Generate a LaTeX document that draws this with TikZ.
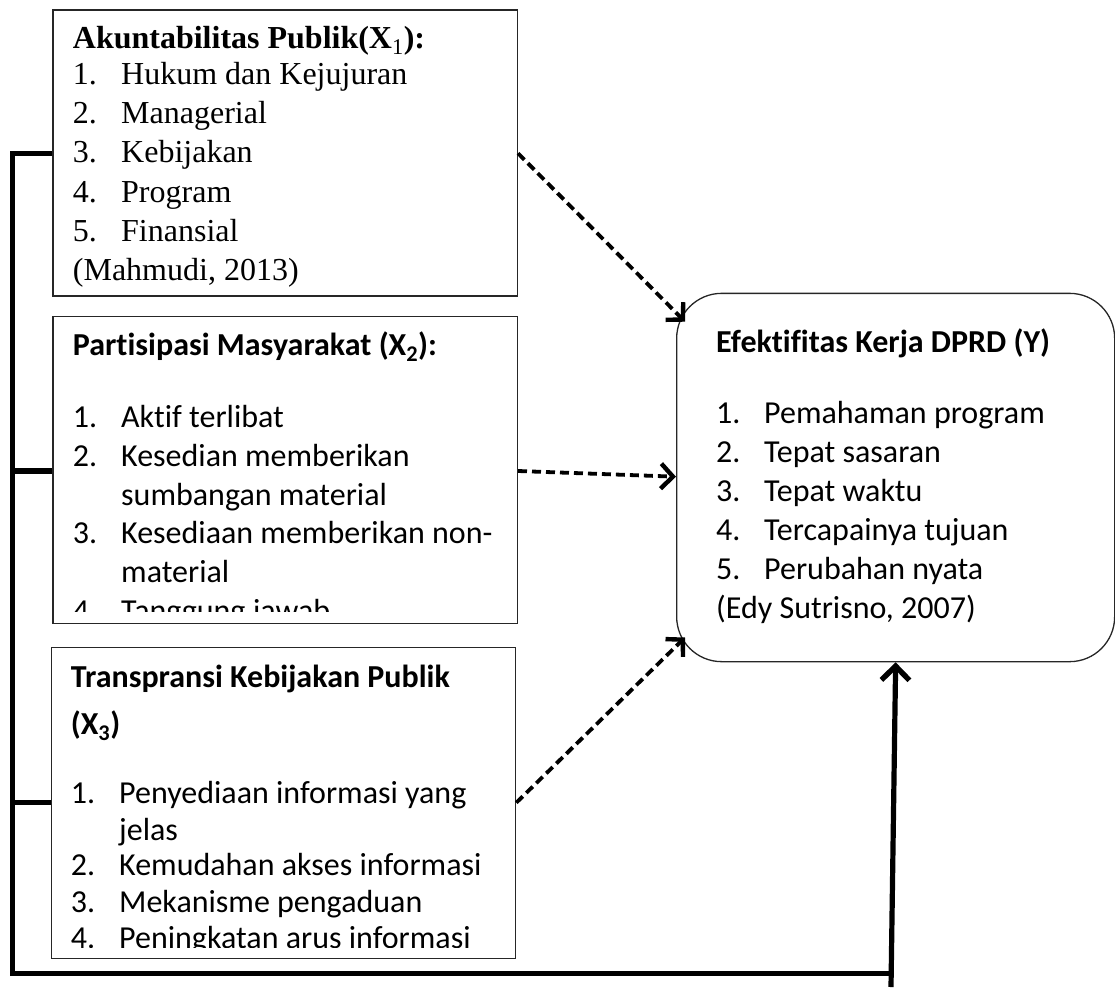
\documentclass[tikz,border=0pt]{standalone}
\usepackage{fontspec}
\newfontfamily\tnrfam{Liberation Serif}
\newfontfamily\calfam[Ligatures=NoCommon]{Carlito}
\usetikzlibrary{arrows.meta}
\newcommand\tnrsz{\tnrfam\fontsize{32}{38}\selectfont}
\newcommand\calsz{\calfam\fontsize{32}{38}\selectfont}
\begin{document}
\begin{tikzpicture}[x=1pt,y=-1pt,
  box/.style={draw=black!85, line width=1.3pt, rectangle, inner sep=0pt, anchor=north west},
  tl/.style={anchor=base west, inner sep=0pt, font=\tnrsz},
  cl/.style={anchor=base west, inner sep=0pt, font=\calsz},
  bus/.style={line width=5.2pt, line join=miter},
  dasharrow/.style={line width=3.8pt, dash pattern=on 9pt off 5pt,
    -{Straight Barb[length=12pt,width=25pt,line width=4.4pt]}},
  bigarrow/.style={line width=5.2pt, -{Straight Barb[length=14pt,width=28pt,line width=5.4pt]}},
]
\useasboundingbox (0,0) rectangle (1115,987);

% boxes
\node[box, minimum width=464.4pt, minimum height=286pt] (b1) at (52.3,9.3) {};
\node[box, minimum width=464.4pt, minimum height=307pt] (b2) at (52.3,315.7) {};
\node[box, minimum width=464.3pt, minimum height=311pt] (b3) at (50.7,647) {};
\node[box, rounded corners=45pt, minimum width=438pt, minimum height=368.3pt] (y) at (676,292.7) {};

% box 1 text
\node[tl, font=\tnrsz\bfseries] (b1t) at (72.7,48.3) {Akuntabilitas Publik(X\textsubscript{\mdseries 1}):};
\node[tl] (b1n1) at (72.7,85) {1.};   \node[tl] (b1i1) at (121,85) {Hukum dan Kejujuran};
\node[tl] (b1n2) at (72.7,124) {2.};  \node[tl] (b1i2) at (121,124) {Managerial};
\node[tl] (b1n3) at (72.7,163) {3.};  \node[tl] (b1i3) at (121,163) {Kebijakan};
\node[tl] (b1n4) at (72.7,202) {4.};  \node[tl] (b1i4) at (121,202) {Program};
\node[tl] (b1n5) at (72.7,241) {5.};  \node[tl] (b1i5) at (121,241) {Finansial};
\node[tl] (b1s) at (72.7,280) {(Mahmudi, 2013)};

% box 2 text
\node[cl, font=\calsz\bfseries] (b2t) at (72.7,355) {Partisipasi Masyarakat (X\textsubscript{2}):};
\node[cl] (b2n1) at (72.7,427.3) {1.}; \node[cl] (b2i1) at (121,427.3) {Aktif terlibat};
\node[cl] (b2n2) at (72.7,466) {2.};   \node[cl] (b2i2) at (121,466) {Kesedian memberikan};
\node[cl] (b2i2b) at (121,505) {sumbangan material};
\node[cl] (b2n3) at (72.7,543.3) {3.}; \node[cl] (b2i3) at (121,543.3) {Kesediaan memberikan non-};
\node[cl] (b2i3b) at (121,582.3) {material};
\begin{scope}
  \clip (52.3,315.7) rectangle (516.7,611.7);
  \node[cl] (b2n4) at (72.7,621.5) {4.}; \node[cl] (b2i4) at (121,621.5) {Tanggung jawab};
\end{scope}

% box 3 text
\node[cl, font=\calsz\bfseries] (b3t) at (70.7,687) {Transpransi Kebijakan Publik};
\node[cl, font=\calsz\bfseries] (b3x) at (70.7,734) {(X\textsubscript{3})};
\node[cl] (b3n1) at (70.7,803) {1.}; \node[cl] (b3i1) at (119,803) {Penyediaan informasi yang};
\node[cl] (b3i1b) at (119,840) {jelas};
\node[cl] (b3n2) at (70.7,875.5) {2.}; \node[cl] (b3i2) at (119,875.5) {Kemudahan akses informasi};
\node[cl] (b3n3) at (70.7,912) {3.}; \node[cl] (b3i3) at (119,912) {Mekanisme pengaduan};
\begin{scope}
  \clip (50.7,647) rectangle (515,947);
  \node[cl] (b3n4) at (70.7,948.5) {4.}; \node[cl] (b3i4) at (119,948.5) {Peningkatan arus informasi};
\end{scope}

% Y box text
\node[cl, font=\calsz\bfseries] (yt) at (716,352) {Efektifitas Kerja DPRD (Y)};
\node[cl] (yn1) at (716,423) {1.}; \node[cl] (yi1) at (764,423) {Pemahaman program};
\node[cl] (yn2) at (716,462.5) {2.}; \node[cl] (yi2) at (764,462.5) {Tepat sasaran};
\node[cl] (yn3) at (716,501) {3.}; \node[cl] (yi3) at (764,501) {Tepat waktu};
\node[cl] (yn4) at (716,540) {4.}; \node[cl] (yi4) at (764,540) {Tercapainya tujuan};
\node[cl] (yn5) at (716,579) {5.}; \node[cl] (yi5) at (764,579) {Perubahan nyata};
\node[cl] (ys) at (716,618) {(Edy Sutrisno, 2007)};

% connector coordinates
\coordinate (j1) at (12.5,153.3);
\coordinate (j2) at (12.5,471);
\coordinate (j3) at (12.5,802.7);
\coordinate (j4) at (12.5,973.5);
\coordinate (j5) at (891,973.5);
\coordinate (abot) at (891,987);
\coordinate (t1) at (685,321.7);
\coordinate (t2) at (676,476.7);
\coordinate (t3) at (685,637.5);

% bus lines
\draw[bus] (b1.west |- j1) -- (j1) -- (j4) -- (j5);
\draw[bus] (j2) -- (b2.west |- j2);
\draw[bus] (j3) -- (b3.west |- j3);
\draw[bigarrow] (abot) -- (y.south);

% dashed arrows
\draw[dasharrow] (b1.east |- j1) -- (t1);
\draw[dasharrow] (b2.east |- j2) -- (t2);
\draw[dasharrow] (b3.east |- j3) -- (t3);
\end{tikzpicture}
\end{document}
